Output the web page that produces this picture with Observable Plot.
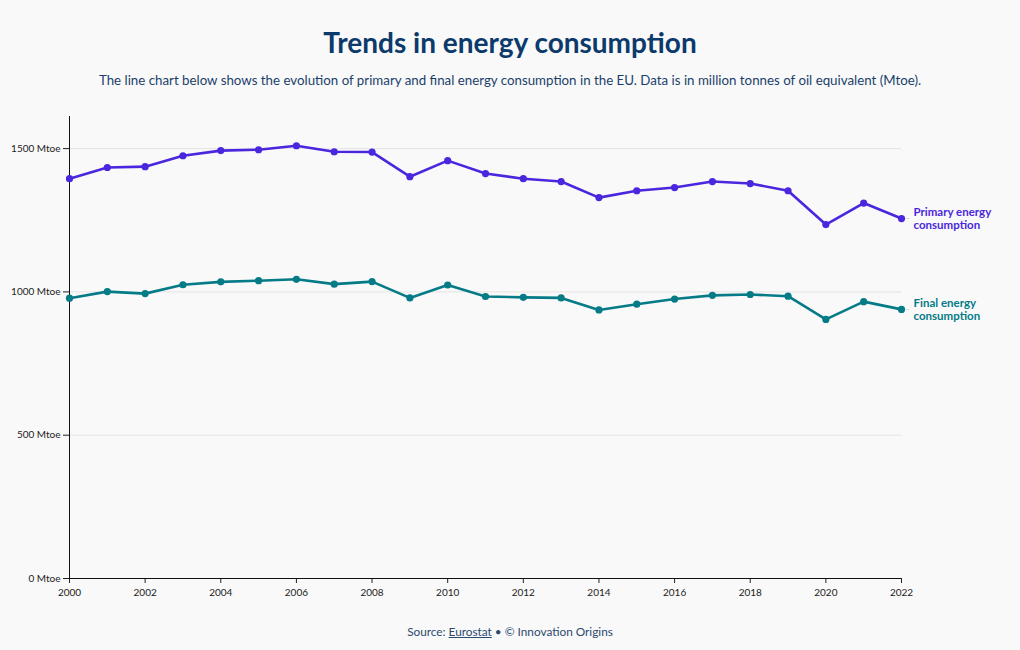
<!DOCTYPE html>
<html><head><meta charset="utf-8">
<script src="https://cdn.jsdelivr.net/npm/d3@7"></script>
<script src="https://cdn.jsdelivr.net/npm/@observablehq/plot@0.6"></script>
<style>
body{margin:0;background:#f9f9f9;font-family:Lato,"Noto Sans",sans-serif;width:1020px;}
#title{padding-top:24px;line-height:36px;font-size:28px;font-weight:700;color:#0b3a6b;text-align:center;}
#subtitle{margin-top:10px;line-height:20px;font-size:13.3px;color:#1a3f6b;text-align:center;}
#chart{margin-top:20px;height:492px;}
#source{margin-top:20px;line-height:20px;font-size:11.8px;color:#2c4a6e;text-align:center;}
#source a{color:#2c4a6e;text-decoration:underline;}
</style></head><body>
<div id="title">Trends in energy consumption</div>
<div id="subtitle">The line chart below shows the evolution of primary and final energy consumption in the EU. Data is in million tonnes of oil equivalent (Mtoe).</div>
<div id="chart"></div>
<div id="source">Source: <a>Eurostat</a> • © Innovation Origins</div>
<script>
const years = [2000,2001,2002,2003,2004,2005,2006,2007,2008,2009,2010,2011,2012,2013,2014,2015,2016,2017,2018,2019,2020,2021,2022];
const primary = [1395,1434,1437,1475,1493,1496,1510,1489,1488,1402,1458,1413,1395,1385,1329,1353,1364,1385,1378,1353,1235,1310,1256];
const finalE = [978,1001,994,1025,1035,1039,1044,1027,1036,979,1024,984,981,979,937,957,975,988,991,985,904,966,939];
const seriesNames = ["Primary energy\nconsumption","Final energy\nconsumption"];
const seriesColors = ["#4a26df","#047b86"];
const yTicks = [0,500,1000,1500];
const xTicks = [2000,2002,2004,2006,2008,2010,2012,2014,2016,2018,2020,2022];

const data = [];
years.forEach((yr,i)=>{
  data.push({year:yr, value:primary[i], series:seriesNames[0]});
  data.push({year:yr, value:finalE[i], series:seriesNames[1]});
});
const last = data.filter(d=>d.year===years[years.length-1]);

const chart = Plot.plot({
  width:1020, height:492,
  marginLeft:69, marginRight:119, marginTop:6, marginBottom:24,
  style:{background:"transparent", fontSize:"10px", fontFamily:"Lato, 'Noto Sans', sans-serif", color:"#222"},
  x:{domain:[2000,2022]},
  y:{domain:[0,1612]},
  color:{domain:seriesNames, range:seriesColors},
  marks:[
    Plot.gridY(yTicks,{stroke:"#e4e4e4", strokeOpacity:1}),
    Plot.axisY({ticks:yTicks, tickFormat:d=>d+" Mtoe", tickSize:6, label:null}),
    Plot.axisX({ticks:xTicks, tickFormat:"d", tickSize:5, label:null, tickPadding:5}),
    Plot.ruleX([2000],{stroke:"#111"}),
    Plot.ruleY([0],{stroke:"#111"}),
    Plot.line(data,{x:"year", y:"value", stroke:"series", strokeWidth:2.6}),
    Plot.dot(data,{x:"year", y:"value", fill:"series", r:3.6}),
    Plot.text(last,{x:"year", y:"value", text:()=>"–", fill:"#bbb", dx:6, fontSize:8}),
    Plot.text(last,{x:"year", y:"value", text:"series", fill:"series", textAnchor:"start", dx:12, fontSize:11.5, fontWeight:700, lineHeight:1.1})
  ]
});
document.getElementById("chart").appendChild(chart);
</script>
</body></html>
